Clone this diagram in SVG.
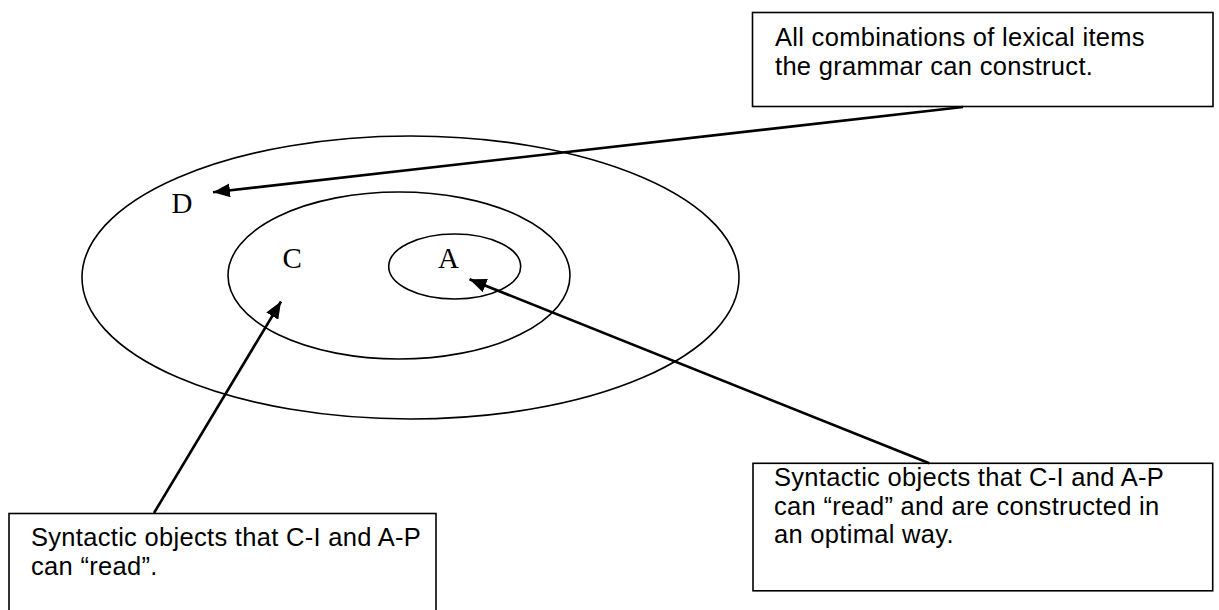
<svg xmlns="http://www.w3.org/2000/svg" width="1219" height="610" viewBox="0 0 1219 610">
  <style>
    .ring { fill: none; stroke: #000; stroke-width: 1.6; }
    .box { fill: #fff; stroke: #000; stroke-width: 1.6; }
    .note { font-family: "Liberation Sans", Arial, sans-serif; font-size: 25.5px; letter-spacing: 0.3px; fill: #000; }
    .set { font-family: "Liberation Serif", "Times New Roman", serif; font-size: 29px; fill: #000; }
    .link { fill: none; stroke: #000; stroke-width: 2.6; }
  </style>
  <defs>
    <marker id="head" markerUnits="userSpaceOnUse" markerWidth="18" markerHeight="14" refX="17" refY="7" orient="auto">
      <path d="M0,0 L17,7 L0,14 Z" fill="#000"/>
    </marker>
  </defs>
  <rect width="1219" height="610" fill="#fff"/>

  <!-- nested sets -->
  <g id="set-D">
    <ellipse class="ring" cx="410.5" cy="277.5" rx="328.5" ry="141.5"/>
    <text class="set" x="171.5" y="212.5">D</text>
  </g>
  <g id="set-C">
    <ellipse class="ring" cx="399" cy="275.5" rx="171" ry="83.5"/>
    <text class="set" x="282.5" y="268">C</text>
  </g>
  <g id="set-A">
    <ellipse class="ring" cx="454.7" cy="266.5" rx="66" ry="32.5"/>
    <text class="set" x="438" y="268">A</text>
  </g>

  <!-- callout boxes, one multi-line text each -->
  <g id="note-D">
    <rect class="box" x="752.5" y="12.5" width="460.5" height="94"/>
    <text class="note" x="775" y="46">All combinations of lexical items<tspan x="775" dy="28.5">the grammar can construct.</tspan></text>
  </g>
  <g id="note-C">
    <rect class="box" x="9" y="513.5" width="427" height="110"/>
    <text class="note" x="31" y="546">Syntactic objects that C-I and A-P<tspan x="31" dy="28.5">can “read”.</tspan></text>
  </g>
  <g id="note-A">
    <rect class="box" x="753" y="463.3" width="459.7" height="127.5"/>
    <text class="note" x="774" y="486">Syntactic objects that C-I and A-P<tspan x="774" dy="28.5">can “read” and are constructed in</tspan><tspan x="774" dy="28.5">an optimal way.</tspan></text>
  </g>

  <!-- connectors -->
  <g id="connectors">
    <line class="link" x1="963" y1="107" x2="213" y2="192.3" marker-end="url(#head)"/>
    <line class="link" x1="154" y1="513" x2="281" y2="301.5" marker-end="url(#head)"/>
    <line class="link" x1="929.3" y1="463.3" x2="469.5" y2="279.3" marker-end="url(#head)"/>
  </g>
</svg>
